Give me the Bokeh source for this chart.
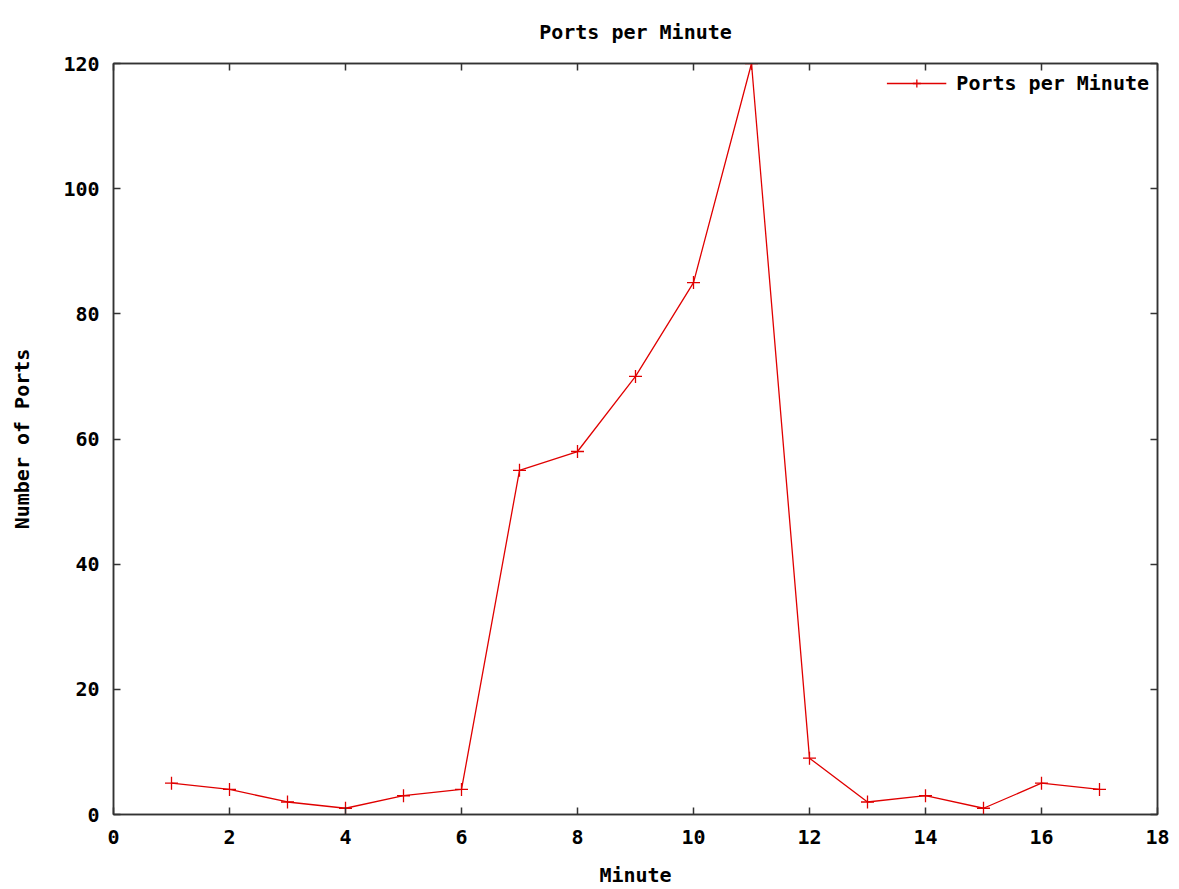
from bokeh.plotting import figure
from bokeh.models import LinearAxis, FixedTicker, Legend, LegendItem, Range1d
from bokeh.embed import file_html
from bokeh.resources import INLINE

minutes = [1, 2, 3, 4, 5, 6, 7, 8, 9, 10, 11, 12, 13, 14, 15, 16, 17]
ports = [5, 4, 2, 1, 3, 4, 55, 58, 70, 85, 120, 9, 2, 3, 1, 5, 4]
x_ticks = [0, 2, 4, 6, 8, 10, 12, 14, 16, 18]
y_ticks = [0, 20, 40, 60, 80, 100, 120]

FONT = "DejaVu Sans Mono"
FS = "20px"
RED = "#e00000"
AX = "#333333"

p = figure(width=1171, height=889, output_backend="svg", toolbar_location=None,
           x_range=Range1d(0, 18), y_range=Range1d(0, 120),
           x_axis_type=None, y_axis_type=None,
           min_border_left=113, min_border_right=14, min_border_top=63, min_border_bottom=75)
p.grid.visible = False
p.outline_line_color = AX
p.outline_line_width = 1.5
p.background_fill_color = "white"
p.border_fill_color = "white"

p.title.text = "Ports per Minute"
p.title.align = "center"
p.title.vertical_align = "top"
p.title.text_font = FONT
p.title.text_font_size = FS
p.title.text_font_style = "bold"
p.title.text_color = "black"
p.title.standoff = 35

def style(ax, ticks, show_labels=True):
    ax.ticker = FixedTicker(ticks=ticks)
    ax.major_tick_in = 7
    ax.major_tick_out = 0
    ax.minor_tick_line_color = None
    ax.axis_line_color = AX
    ax.axis_line_width = 1.5
    ax.major_tick_line_color = AX
    ax.major_tick_line_width = 1.5
    ax.major_label_text_font = FONT
    ax.major_label_text_font_size = FS
    ax.major_label_text_font_style = "bold"
    ax.major_label_text_color = "black"
    ax.axis_label_text_font = FONT
    ax.axis_label_text_font_size = FS
    ax.axis_label_text_font_style = "bold"
    ax.axis_label_text_color = "black"
    if not show_labels:
        ax.major_label_overrides = {t: "" for t in ticks}
        ax.major_label_standoff = 0

xb = LinearAxis(axis_label="Minute")
style(xb, x_ticks)
xb.major_label_standoff = 15
xb.axis_label_standoff = 16
xt = LinearAxis()
style(xt, x_ticks, False)
yl = LinearAxis(axis_label="Number of Ports")
style(yl, y_ticks)
yl.major_label_standoff = 14
yl.axis_label_standoff = 26
yr = LinearAxis()
style(yr, y_ticks, False)

p.add_layout(xb, "below")
p.add_layout(xt, "above")
p.add_layout(yl, "left")
p.add_layout(yr, "right")

ln = p.line(minutes, ports, line_color=RED, line_width=1.3)
sc = p.scatter(minutes, ports, marker="cross", size=13, line_color=RED, line_width=1.3)

leg = Legend(items=[LegendItem(label="Ports per Minute", renderers=[ln, sc])],
             location="top_right", border_line_color=None, background_fill_alpha=0,
             label_text_font=FONT, label_text_font_size=FS, label_text_font_style="bold",
             label_text_color="black",
             glyph_width=60, glyph_height=20, padding=4, margin=8, label_standoff=10)
p.add_layout(leg)

open("out.html", "w").write(file_html(p, INLINE))
